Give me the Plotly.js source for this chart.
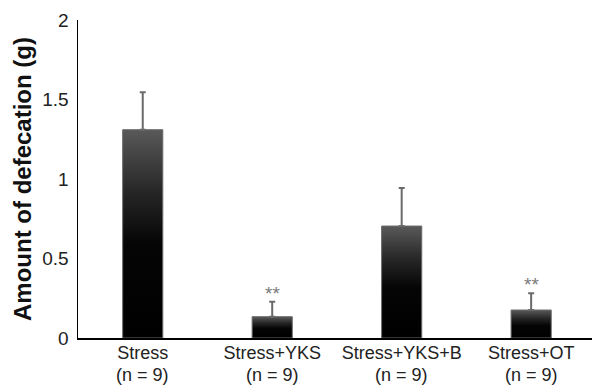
<!DOCTYPE html>
<html>
<head>
<meta charset="utf-8">
<script src="https://cdn.plot.ly/plotly-3.0.1.min.js"></script>
<style>html,body{margin:0;padding:0;background:#fff;}#chart{width:592px;height:387px;}</style>
</head>
<body>
<div id="chart"></div>
<script>
var groups = ["Stress", "Stress+YKS", "Stress+YKS+B", "Stress+OT"];
var nLabels = ["(n = 9)", "(n = 9)", "(n = 9)", "(n = 9)"];
var means = [1.31, 0.134, 0.704, 0.176];
var errors = [0.235, 0.094, 0.24, 0.105];
var significance = ["", "**", "", "**"];
var yTicks = [0, 0.5, 1, 1.5, 2];
var yTickLabels = ["0", "0.5", "1", "1.5", "2"];

var FONT = "Liberation Sans, Arial, sans-serif";

var trace = {
  type: "bar",
  x: groups,
  y: means,
  width: 0.31,
  marker: {color: "#222", line: {color: "#6a6a6a", width: 1}},
  error_y: {type: "data", array: errors, visible: true, color: "#6a6a6a", thickness: 2, width: 3, symmetric: false, arrayminus: [0,0,0,0]},
  hoverinfo: "none"
};

var annotations = [];
for (var i = 0; i < groups.length; i++) {
  if (significance[i]) {
    annotations.push({
      x: groups[i], y: means[i] + errors[i], xref: "x", yref: "y",
      text: significance[i], showarrow: false, yanchor: "bottom", yshift: -4,
      font: {family: FONT, size: 19, color: "#7a7a7a"}
    });
  }
  annotations.push({
    x: groups[i], y: 0, xref: "x", yref: "paper",
    text: nLabels[i], showarrow: false, yanchor: "middle", yshift: -37, borderpad: 0,
    font: {family: FONT, size: 18, color: "#222"}
  });
}

var layout = {
  width: 592, height: 387,
  margin: {l: 78, r: 0, t: 20, b: 49},
  paper_bgcolor: "#fff", plot_bgcolor: "#fff",
  showlegend: false,
  font: {family: FONT, color: "#222"},
  xaxis: {
    type: "category", range: [-0.5, 3.47],
    showline: true, linecolor: "#000", linewidth: 1.5,
    ticks: "", showgrid: false, zeroline: false,
    tickfont: {size: 18, color: "#222"}, ticklabelstandoff: -2, automargin: false
  },
  yaxis: {
    range: [0, 2], tickvals: yTicks, ticktext: yTickLabels,
    showline: true, linecolor: "#000", linewidth: 1.5,
    ticks: "", showgrid: false, zeroline: false,
    tickfont: {size: 19, color: "#222"}, ticklabelstandoff: 4,
    title: {text: "<b>Amount of defecation (g)</b>", font: {size: 24, color: "#111"}, standoff: 4},
    automargin: false
  },
  annotations: annotations
};

Plotly.newPlot("chart", [trace], layout, {displayModeBar: false, staticPlot: true}).then(function(gd){
  var svg = gd.querySelector("svg.main-svg");
  var ns = "http://www.w3.org/2000/svg";
  var defs = svg.querySelector("defs") || svg.insertBefore(document.createElementNS(ns, "defs"), svg.firstChild);
  var grad = document.createElementNS(ns, "linearGradient");
  grad.setAttribute("id", "barGrad");
  grad.setAttribute("x1", "0"); grad.setAttribute("y1", "0");
  grad.setAttribute("x2", "0"); grad.setAttribute("y2", "1");
  var stops = [[0, "#595959"], [0.3, "#262626"], [0.55, "#050505"], [1, "#000000"]];
  stops.forEach(function(s){
    var st = document.createElementNS(ns, "stop");
    st.setAttribute("offset", s[0]); st.setAttribute("stop-color", s[1]);
    grad.appendChild(st);
  });
  defs.appendChild(grad);
  gd.querySelectorAll(".bars .point path").forEach(function(p){
    p.style.fill = "url(#barGrad)";
  });
});
</script>
</body>
</html>
